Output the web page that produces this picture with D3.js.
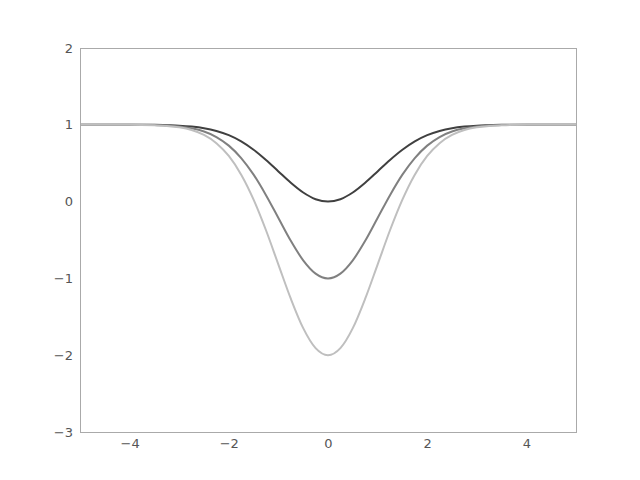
<!DOCTYPE html>
<html><head><meta charset="utf-8">
<script src="https://cdn.jsdelivr.net/npm/d3@7/dist/d3.min.js"></script>
<style>body{margin:0;background:#fff}</style>
</head><body>
<svg id="c" width="640" height="480"></svg>
<script>
const xs = [-5,-4.5,-4,-3.5,-3.25,-3,-2.75,-2.5,-2.25,-2,-1.75,-1.5,-1.25,-1,-0.75,-0.5,-0.25,0,
            0.25,0.5,0.75,1,1.25,1.5,1.75,2,2.25,2.5,2.75,3,3.25,3.5,4,4.5,5];
const seriesA = [1,1,1,1,0.995,0.989,0.977,0.956,0.920,0.865,0.784,0.675,0.542,0.393,0.245,0.118,0.031,0,
                 0.031,0.118,0.245,0.393,0.542,0.675,0.784,0.865,0.920,0.956,0.977,0.989,0.995,1,1,1,1];
const seriesB = [1,1,1,0.996,0.990,0.978,0.954,0.912,0.841,0.729,0.567,0.351,0.084,-0.213,-0.510,-0.765,-0.938,-1,
                 -0.938,-0.765,-0.510,-0.213,0.084,0.351,0.567,0.729,0.841,0.912,0.954,0.978,0.990,0.996,1,1,1];
const seriesC = [1,1,1,0.993,0.985,0.967,0.932,0.868,0.761,0.594,0.351,0.026,-0.373,-0.820,-1.264,-1.648,-1.908,-2,
                 -1.908,-1.648,-1.264,-0.820,-0.373,0.026,0.351,0.594,0.761,0.868,0.932,0.967,0.985,0.993,1,1,1];
const xTicks = [-4,-2,0,2,4];
const yTicks = [-3,-2,-1,0,1,2];
const colors = ["#404040","#808080","#bfbfbf"];

const svg = d3.select("#c");
const L=80,R=576,T=48,B=432;
const x = d3.scaleLinear().domain([-5,5]).range([L,R]);
const y = d3.scaleLinear().domain([-3,2]).range([B,T]);

const line = d3.line().x((d,i)=>x(xs[i])).y(d=>y(d)).curve(d3.curveMonotoneX);
svg.append("clipPath").attr("id","clp").append("rect").attr("x",L).attr("y",T).attr("width",R-L).attr("height",B-T);
const g = svg.append("g").attr("clip-path","url(#clp)");
[seriesA,seriesB,seriesC].forEach((s,i)=>{
  g.append("path").attr("d",line(s)).attr("fill","none").attr("stroke",colors[i]).attr("stroke-width",2);
});

svg.append("rect").attr("x",L).attr("y",T).attr("width",R-L).attr("height",B-T)
  .attr("fill","none").attr("stroke","#aaaaaa").attr("stroke-width",1).attr("shape-rendering","crispEdges");

const fmt = v => v<0 ? "\u2212"+Math.abs(v) : String(v);
const xa = svg.append("g").attr("transform",`translate(0,${B})`)
  .call(d3.axisBottom(x).tickValues(xTicks).tickSize(0).tickPadding(7).tickFormat(fmt));
const ya = svg.append("g").attr("transform",`translate(${L},0)`)
  .call(d3.axisLeft(y).tickValues(yTicks).tickSize(0).tickPadding(7).tickFormat(fmt));
[xa,ya].forEach(a=>{
  a.select(".domain").remove();
  a.selectAll("text").attr("fill","#555555").style("font-family","DejaVu Sans").style("font-size","13px");
});
</script>
</body></html>
